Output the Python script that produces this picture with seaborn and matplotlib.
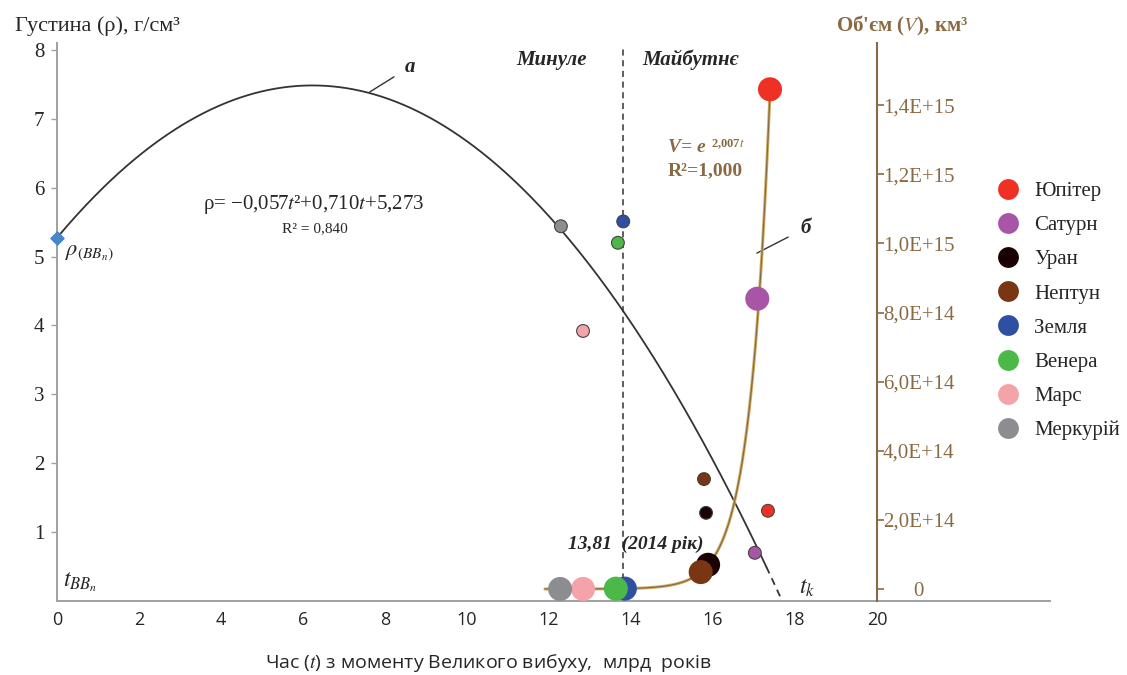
import numpy as np
import pandas as pd
import matplotlib
matplotlib.use("Agg")
import matplotlib.pyplot as plt
from matplotlib.lines import Line2D
import seaborn as sns

# ---------------- data ----------------
planets = ['Юпітер', 'Сатурн', 'Уран', 'Нептун', 'Земля', 'Венера', 'Марс', 'Меркурій']
colors = ['#ee3124', '#a855a8', '#1a0204', '#7a3512', '#2f4fa3', '#4cb848', '#f4a3a8', '#8b8d91']

t_density = [17.34, 17.02, 15.83, 15.78, 13.81, 13.68, 12.83, 12.29]
density = [1.31, 0.70, 1.28, 1.77, 5.51, 5.20, 3.92, 5.44]

t_volume = [17.39, 17.08, 15.88, 15.70, 13.85, 13.63, 12.83, 12.27]
volume = [1.446e15, 8.40e14, 7.0e13, 4.9e13, 1.08e12, 9.3e11, 1.6e11, 6.1e10]

rho_coef = [-0.057, 0.710, 5.273]   # rho = a t^2 + b t + c
v_rate = 2.007                       # V = e^(2.007 t)
t_now = 13.81

x_ticks = [0, 2, 4, 6, 8, 10, 12, 14, 16, 18, 20]
y_ticks = [1, 2, 3, 4, 5, 6, 7, 8]
v_ticks = [0, 2e14, 4e14, 6e14, 8e14, 1.0e15, 1.2e15, 1.4e15]
v_labels = ['0', '2,0E+14', '4,0E+14', '6,0E+14', '8,0E+14', '1,0E+15', '1,2E+15', '1,4E+15']

# ---------------- style ----------------
sns.set_theme(style='white')
plt.rcParams['font.family'] = ['Liberation Serif', 'DejaVu Serif']
plt.rcParams['mathtext.fontset'] = 'stix'

BROWN = '#8a6a42'
GRAY = '#a0a0a0'

fig = plt.figure(figsize=(11.27, 6.75), dpi=100)
ax = fig.add_axes([0.0506, 0.1096, 0.8811, 0.8267])
ax.set_xlim(0, 24.22)
ax.set_ylim(0, 8.1)
ax2 = ax.twinx()
ax2.set_ylim(-3.48e13, 1.58e15)

# density trend (quadratic)
a, b, c = rho_coef
t_solid = np.linspace(0, 17.3, 300)
t_dash = np.linspace(17.3, (-b - np.sqrt(b * b - 4 * a * c)) / (2 * a), 30)
sns.lineplot(x=t_solid, y=a * t_solid ** 2 + b * t_solid + c, ax=ax,
             color='#333333', lw=1.3, sort=False)
sns.lineplot(x=t_dash, y=a * t_dash ** 2 + b * t_dash + c, ax=ax,
             color='#333333', lw=1.3, linestyle=(0, (4, 3)), sort=False)

# volume trend (exponential)
t_v = np.linspace(11.9, 17.39, 300)
sns.lineplot(x=t_v, y=np.exp(v_rate * t_v), ax=ax2, color='#d2ad63', lw=2.2, sort=False)
sns.lineplot(x=t_v, y=np.exp(v_rate * t_v), ax=ax2, color='#8a6a42', lw=0.9, sort=False)

# present-day line
ax.axvline(t_now, ymin=0, ymax=0.995, color='#333333', lw=1.1, linestyle=(0, (4, 3)))

# points
pal = dict(zip(planets, colors))
sns.scatterplot(x=t_volume, y=volume, hue=planets, palette=pal, ax=ax2, s=300,
                edgecolor='none', legend=False, zorder=5)
sns.scatterplot(x=t_density, y=density, hue=planets, palette=pal, ax=ax, s=85,
                edgecolor='#444444', linewidth=0.8, legend=False, zorder=5)
ax.scatter([0], [c], marker='D', s=45, color='#4a86c8', zorder=6, clip_on=False)

# ---------------- axes styling ----------------
for s in ['top', 'right']:
    ax.spines[s].set_visible(False)
for s in ['left', 'bottom']:
    ax.spines[s].set_color(GRAY)
    ax.spines[s].set_linewidth(1.4)
for s in ['top', 'left', 'bottom']:
    ax2.spines[s].set_visible(False)
ax2.spines['right'].set_position(('data', 20))
ax2.spines['right'].set_color(BROWN)
ax2.spines['right'].set_linewidth(1.5)

ax.set_xticks(x_ticks)
ax.set_xticklabels([str(v) for v in x_ticks], family='Open Sans', fontsize=13)
ax.set_yticks(y_ticks)
ax.set_yticklabels([str(v) for v in y_ticks], fontsize=15)
ax.tick_params(axis='x', direction='inout', length=8, color=GRAY, width=1.2, pad=3)
ax.tick_params(axis='y', direction='out', length=4, color=GRAY, width=1.0, pad=5, left=True)
ax2.set_yticks(v_ticks)
ax2.set_yticklabels(v_labels, fontsize=15, color=BROWN)
for lab in ax2.get_yticklabels():
    lab.set_horizontalalignment('center')
ax2.tick_params(axis='y', direction='out', length=5, color=BROWN, width=1.2, pad=25, right=True)
ax.grid(False)
ax2.grid(False)

# axis titles
fig.text(0.013, 0.962, 'Густина (ρ), г/см³', fontsize=16, ha='left', va='center')
fig.text(0.742, 0.962, "Об'єм ($\\it{V}$), км³", fontsize=15, ha='left', va='center',
         color=BROWN, fontweight='bold')
fig.text(0.433, 0.018, 'Час ($\\it{t}$) з моменту Великого вибуху,  млрд  років',
         fontsize=14, ha='center', va='center', family='Open Sans')

# annotations
ax.text(12.05, 7.85, 'Минуле', fontsize=15, fontweight='bold', style='italic', ha='center', va='center')
ax.text(15.45, 7.85, 'Майбутнє', fontsize=15, fontweight='bold', style='italic', ha='center', va='center')
ax.text(6.25, 5.75, 'ρ= −0,057$t$²+0,710$t$+5,273', fontsize=15, ha='center', va='center')
ax.text(6.3, 5.4, 'R² = 0,840', fontsize=11, ha='center', va='center')
ax.text(14.12, 0.82, '13,81  (2014 рік)', fontsize=14, fontweight='bold', style='italic',
        ha='center', va='center')
ax.text(14.9, 6.58, 'V= e', fontsize=14, color=BROWN, fontweight='bold', style='italic',
        ha='left', va='center')
ax.text(14.9, 6.25, 'R²=1,000', fontsize=14, color=BROWN, fontweight='bold', ha='left', va='center')
ax.text(15.95, 6.63, '2,007$t$', fontsize=9, color=BROWN, fontweight='bold', ha='left', va='center')
ax.text(0.2, 5.05, r'$\rho_{\it{(BB_n)}}$', fontsize=16, ha='left', va='center')
ax.text(0.15, 0.28, r'$t_{BB_n}$', fontsize=17, ha='left', va='center')
ax.text(18.1, 0.18, r'$t_k$', fontsize=17, ha='left', va='center')

ax.annotate('а', xy=(7.63, 7.39), xytext=(8.6, 7.75), fontsize=15, fontweight='bold',
            style='italic', ha='center', va='center',
            arrowprops=dict(arrowstyle='-', color='#333333', lw=1.0, shrinkA=6, shrinkB=0))
ax.annotate('б', xy=(17.07, 5.05), xytext=(18.25, 5.41), fontsize=15, fontweight='bold',
            style='italic', ha='center', va='center',
            arrowprops=dict(arrowstyle='-', color='#333333', lw=1.0, shrinkA=7, shrinkB=0))

# legend
handles = [Line2D([0], [0], marker='o', linestyle='none', markersize=15,
                  markerfacecolor=col, markeredgecolor='none') for col in colors]
fig.legend(handles, planets, loc='upper left', bbox_to_anchor=(0.868, 0.759),
           frameon=False, prop={'family': 'Liberation Serif', 'size': 15},
           labelspacing=0.70, handletextpad=0.7, handlelength=1.1)

fig.savefig('out.png', dpi=100)
